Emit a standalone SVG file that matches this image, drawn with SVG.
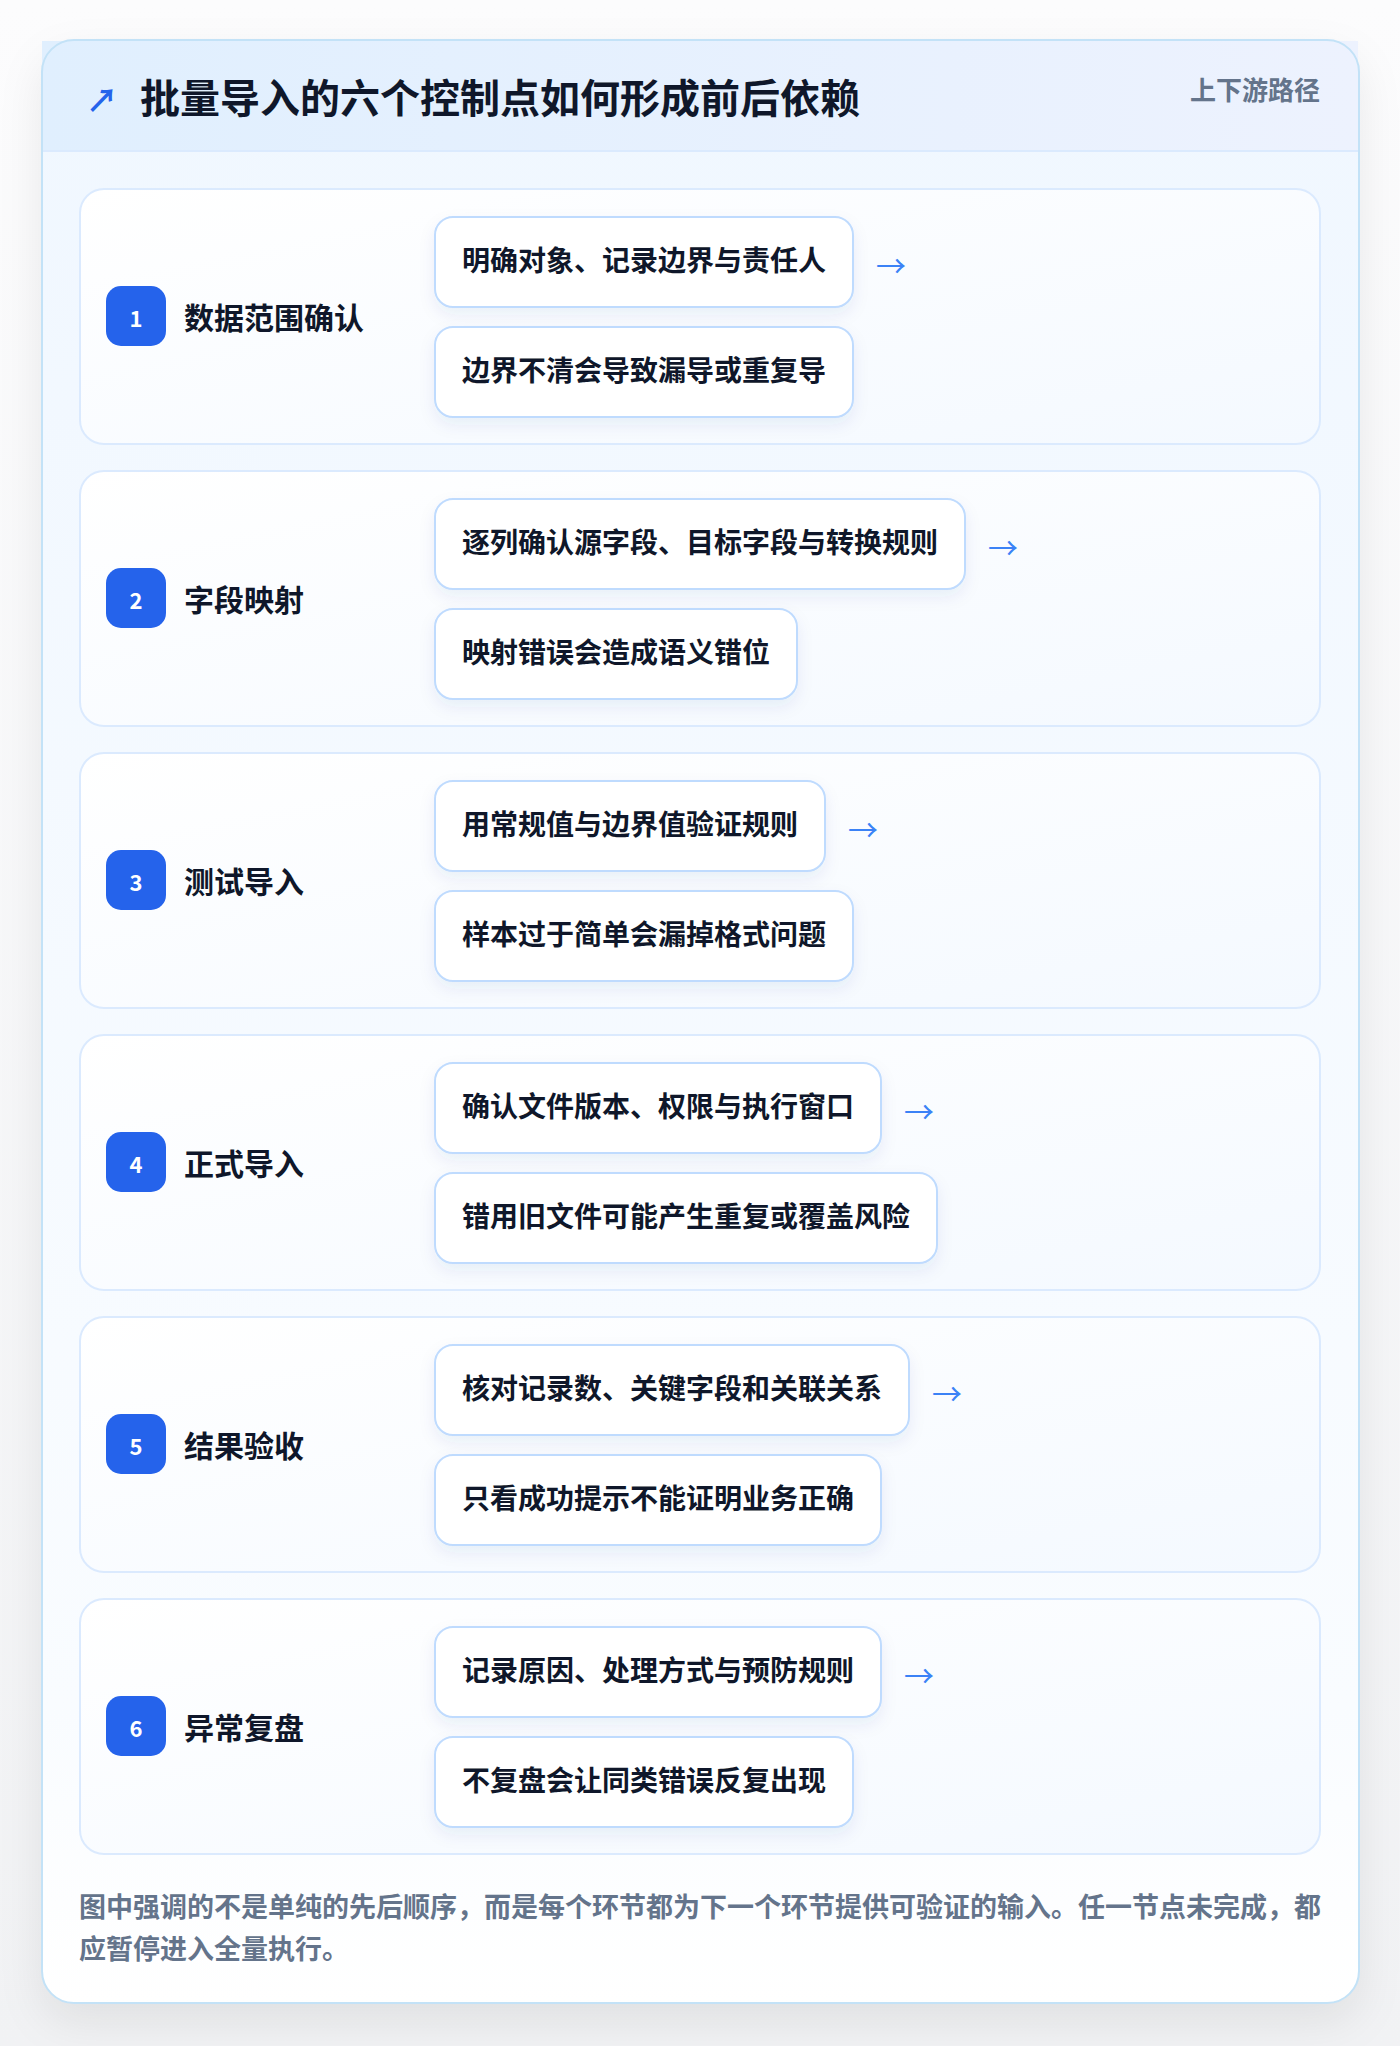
<svg xmlns="http://www.w3.org/2000/svg" width="1400" height="2046" viewBox="0 0 1400 2046">
  <defs>
    <linearGradient id="pageGrad" x1="0" y1="0" x2="0" y2="1">
      <stop offset="0" stop-color="#fcfcfd"/>
      <stop offset="1" stop-color="#f1f2f4"/>
    </linearGradient>
    <linearGradient id="headGrad" x1="0" y1="0" x2="1" y2="0">
      <stop offset="0" stop-color="#e0effe"/>
      <stop offset="1" stop-color="#edf2fe"/>
    </linearGradient>
    <linearGradient id="bodyGrad" x1="0" y1="0" x2="0" y2="1">
      <stop offset="0" stop-color="#f0f7ff"/>
      <stop offset="0.85" stop-color="#f9fcff"/>
      <stop offset="1" stop-color="#ffffff"/>
    </linearGradient>
    <linearGradient id="stepGrad" x1="0" y1="0" x2="1" y2="1">
      <stop offset="0" stop-color="#ffffff"/>
      <stop offset="1" stop-color="#f4f9ff"/>
    </linearGradient>
    <filter id="cardShadow" x="-10%" y="-10%" width="120%" height="120%">
      <feDropShadow dx="0" dy="18" stdDeviation="22" flood-color="#0f172a" flood-opacity="0.08"/>
    </filter>
    <filter id="pillShadow" x="-10%" y="-30%" width="120%" height="170%">
      <feDropShadow dx="0" dy="7" stdDeviation="8" flood-color="#1e3a8a" flood-opacity="0.07"/>
    </filter>
  </defs>
  <style>
    text { font-family: "Noto Sans CJK SC", "Noto Sans", sans-serif; font-weight: 700; }
    .step { fill: url(#stepGrad); stroke: #dbeafe; stroke-width: 2; }
    .pill { fill: #ffffff; stroke: #bfdbfe; stroke-width: 2; filter: url(#pillShadow); }
    .badge { fill: #2563eb; }
    .num { font-size: 22px; fill: #ffffff; text-anchor: middle; }
    .label { font-size: 30px; fill: #0f172a; }
    .ptxt { font-size: 28px; fill: #0f172a; }
    .arrow { font-size: 30px; font-weight: 400; fill: #3b82f6; }
    .foot { font-size: 27px; fill: #64748b; }
  </style>

  <rect x="0" y="0" width="1400" height="2046" fill="url(#pageGrad)"/>

  <g id="card">
    <rect x="42" y="40" width="1317" height="1963" rx="32" fill="url(#bodyGrad)" filter="url(#cardShadow)"/>
    <rect x="42" y="41" width="1316" height="110" fill="url(#headGrad)"/>
    <line x1="42" y1="151" x2="1358" y2="151" stroke="#dbeafe" stroke-width="2"/>
    <rect x="42" y="40" width="1317" height="1963" rx="32" fill="none" stroke="#c3e2f7" stroke-width="2"/>
  </g>

  <g id="header">
    <text x="86" y="112" font-size="32" fill="#2563eb">↗</text>
    <text x="140" y="113" font-size="40" fill="#0f172a">批量导入的六个控制点如何形成前后依赖</text>
    <text x="1320" y="100" font-size="26" fill="#64748b" text-anchor="end">上下游路径</text>
  </g>

  <g id="step1" transform="translate(0,189)">
    <rect class="step" x="80" y="0" width="1240" height="255" rx="24"/>
    <rect class="badge" x="106" y="97" width="60" height="60" rx="15"/>
    <text class="num" x="136" y="138">1</text>
    <text class="label" x="184" y="140">数据范围确认</text>
    <rect class="pill" x="435" y="28" width="418" height="90" rx="18"/>
    <text class="ptxt" x="462" y="82">明确对象、记录边界与责任人</text>
    <rect class="pill" x="435" y="138" width="418" height="90" rx="18"/>
    <text class="ptxt" x="462" y="192">边界不清会导致漏导或重复导</text>
  </g>

  <g id="step2" transform="translate(0,471)">
    <rect class="step" x="80" y="0" width="1240" height="255" rx="24"/>
    <rect class="badge" x="106" y="97" width="60" height="60" rx="15"/>
    <text class="num" x="136" y="138">2</text>
    <text class="label" x="184" y="140">字段映射</text>
    <rect class="pill" x="435" y="28" width="530" height="90" rx="18"/>
    <text class="ptxt" x="462" y="82">逐列确认源字段、目标字段与转换规则</text>
    <rect class="pill" x="435" y="138" width="362" height="90" rx="18"/>
    <text class="ptxt" x="462" y="192">映射错误会造成语义错位</text>
  </g>

  <g id="step3" transform="translate(0,753)">
    <rect class="step" x="80" y="0" width="1240" height="255" rx="24"/>
    <rect class="badge" x="106" y="97" width="60" height="60" rx="15"/>
    <text class="num" x="136" y="138">3</text>
    <text class="label" x="184" y="140">测试导入</text>
    <rect class="pill" x="435" y="28" width="390" height="90" rx="18"/>
    <text class="ptxt" x="462" y="82">用常规值与边界值验证规则</text>
    <rect class="pill" x="435" y="138" width="418" height="90" rx="18"/>
    <text class="ptxt" x="462" y="192">样本过于简单会漏掉格式问题</text>
  </g>

  <g id="step4" transform="translate(0,1035)">
    <rect class="step" x="80" y="0" width="1240" height="255" rx="24"/>
    <rect class="badge" x="106" y="97" width="60" height="60" rx="15"/>
    <text class="num" x="136" y="138">4</text>
    <text class="label" x="184" y="140">正式导入</text>
    <rect class="pill" x="435" y="28" width="446" height="90" rx="18"/>
    <text class="ptxt" x="462" y="82">确认文件版本、权限与执行窗口</text>
    <rect class="pill" x="435" y="138" width="502" height="90" rx="18"/>
    <text class="ptxt" x="462" y="192">错用旧文件可能产生重复或覆盖风险</text>
  </g>

  <g id="step5" transform="translate(0,1317)">
    <rect class="step" x="80" y="0" width="1240" height="255" rx="24"/>
    <rect class="badge" x="106" y="97" width="60" height="60" rx="15"/>
    <text class="num" x="136" y="138">5</text>
    <text class="label" x="184" y="140">结果验收</text>
    <rect class="pill" x="435" y="28" width="474" height="90" rx="18"/>
    <text class="ptxt" x="462" y="82">核对记录数、关键字段和关联关系</text>
    <rect class="pill" x="435" y="138" width="446" height="90" rx="18"/>
    <text class="ptxt" x="462" y="192">只看成功提示不能证明业务正确</text>
  </g>

  <g id="step6" transform="translate(0,1599)">
    <rect class="step" x="80" y="0" width="1240" height="255" rx="24"/>
    <rect class="badge" x="106" y="97" width="60" height="60" rx="15"/>
    <text class="num" x="136" y="138">6</text>
    <text class="label" x="184" y="140">异常复盘</text>
    <rect class="pill" x="435" y="28" width="446" height="90" rx="18"/>
    <text class="ptxt" x="462" y="82">记录原因、处理方式与预防规则</text>
    <rect class="pill" x="435" y="138" width="418" height="90" rx="18"/>
    <text class="ptxt" x="462" y="192">不复盘会让同类错误反复出现</text>
  </g>

  <g id="connectors">
    <text class="arrow" x="876" y="277">→</text>
    <text class="arrow" x="988" y="559">→</text>
    <text class="arrow" x="848" y="841">→</text>
    <text class="arrow" x="904" y="1123">→</text>
    <text class="arrow" x="932" y="1405">→</text>
    <text class="arrow" x="904" y="1687">→</text>
  </g>

  <g id="footer">
    <text class="foot" x="79" y="1917" textLength="1242" lengthAdjust="spacing">图中强调的不是单纯的先后顺序，而是每个环节都为下一个环节提供可验证的输入。任一节点未完成，都</text>
    <text class="foot" x="79" y="1959">应暂停进入全量执行。</text>
  </g>
</svg>
